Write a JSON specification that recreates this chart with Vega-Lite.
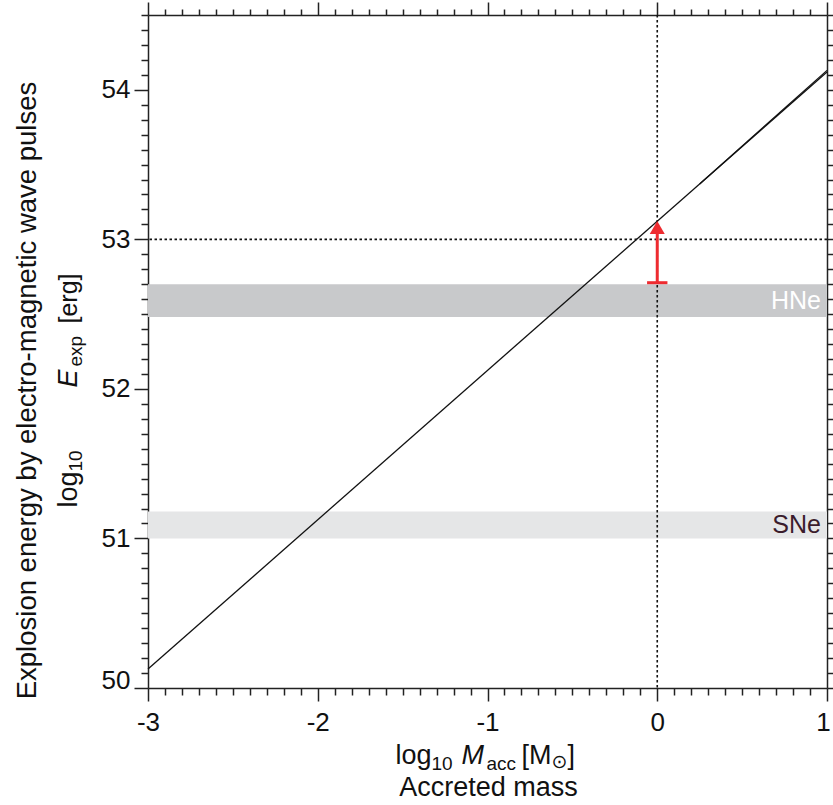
{
  "$schema": "https://vega.github.io/schema/vega-lite/v6.json",
  "width": 679,
  "height": 673,
  "autosize": "none",
  "padding": {"left": 148, "top": 15, "right": 6, "bottom": 117},
  "background": "white",
  "config": {
    "view": {"stroke": null},
    "axis": {
      "grid": false,
      "domainColor": "#222222",
      "domainWidth": 1.5,
      "tickColor": "#222222",
      "tickWidth": 1.5,
      "labelFont": "Liberation Sans",
      "labelFontSize": 26,
      "labelColor": "#111111",
      "titleFont": "Liberation Sans",
      "titleFontSize": 27,
      "titleFontWeight": "normal",
      "titleColor": "#111111",
      "labelOverlap": false,
      "labelBound": false,
      "labelFlush": false
    }
  },
  "datasets": {
    "bands": [
      {"band": "HNe", "lo": 52.48, "hi": 52.70, "mid": 52.59},
      {"band": "SNe", "lo": 51.0, "hi": 51.18, "mid": 51.09}
    ],
    "vref": [{"m": 0}],
    "href": [{"e": 53}],
    "lineA": [{"m": -3, "e": 50.127}, {"m": 1, "e": 54.119}],
    "lineB": [{"m": 0.25, "e": 53.37}, {"m": 1, "e": 54.13}],
    "shaft": [{"m": 0, "lo": 52.71, "hi": 53.04}],
    "cap": [{"lo": -0.06, "hi": 0.06, "e": 52.71}],
    "head": [{"m": 0, "e": 53.079}]
  },
  "layer": [
    {
      "data": {"name": "bands"},
      "mark": {"type": "rect"},
      "encoding": {
        "x": {"datum": -3, "type": "quantitative", "scale": {"domain": [-3, 1], "nice": false, "zero": false},
          "axis": {"orient": "bottom", "domain": false, "ticks": false, "labels": false, "title": "log", "titleX": 247, "titleY": 75, "titleAlign": "left", "titleBaseline": "alphabetic"}},
        "x2": {"datum": 1},
        "y": {"field": "lo", "type": "quantitative", "scale": {"domain": [50, 54.5], "nice": false, "zero": false},
          "axis": {"orient": "left", "domain": false, "ticks": false, "labels": false, "title": "log", "titleAngle": 270, "titleX": -72, "titleY": 492, "titleAlign": "left", "titleBaseline": "alphabetic"}},
        "y2": {"field": "hi"},
        "fill": {"field": "band", "type": "nominal", "scale": {"domain": ["HNe", "SNe"], "range": ["#c8c9cb", "#e5e6e7"]}, "legend": null}
      }
    },
    {
      "data": {"name": "bands"},
      "mark": {"type": "text", "align": "right", "baseline": "middle", "dx": -6, "font": "Liberation Sans", "fontSize": 25},
      "encoding": {
        "x": {"datum": 1, "type": "quantitative", "scale": {"domain": [-3, 1], "nice": false, "zero": false},
          "axis": {"orient": "bottom", "domain": false, "ticks": false, "labels": false, "title": "10", "titleFontSize": 19, "titleX": 283, "titleY": 81, "titleAlign": "left", "titleBaseline": "alphabetic"}},
        "y": {"field": "mid", "type": "quantitative", "scale": {"domain": [50, 54.5], "nice": false, "zero": false},
          "axis": {"orient": "left", "domain": false, "ticks": false, "labels": false, "title": "10", "titleFontSize": 19, "titleAngle": 270, "titleX": -67, "titleY": 456, "titleAlign": "left", "titleBaseline": "alphabetic"}},
        "text": {"field": "band", "type": "nominal"},
        "color": {"field": "band", "type": "nominal", "scale": {"domain": ["HNe", "SNe"], "range": ["#ffffff", "#3a1c2c"]}, "legend": null}
      }
    },
    {
      "data": {"name": "vref"},
      "mark": {"type": "rule", "color": "#111111", "strokeWidth": 1.6, "strokeDash": [2.5, 2.5]},
      "encoding": {
        "x": {"field": "m", "type": "quantitative", "scale": {"domain": [-3, 1], "nice": false, "zero": false},
          "axis": {"orient": "bottom", "domain": false, "ticks": false, "labels": false, "title": "M", "titleFontStyle": "italic", "titleX": 313, "titleY": 75, "titleAlign": "left", "titleBaseline": "alphabetic"}}
      }
    },
    {
      "data": {"name": "href"},
      "mark": {"type": "rule", "color": "#111111", "strokeWidth": 1.6, "strokeDash": [2.5, 2.5]},
      "encoding": {
        "y": {"field": "e", "type": "quantitative", "scale": {"domain": [50, 54.5], "nice": false, "zero": false},
          "axis": {"orient": "left", "domain": false, "ticks": false, "labels": false, "title": "E", "titleFontStyle": "italic", "titleAngle": 270, "titleX": -72, "titleY": 372, "titleAlign": "left", "titleBaseline": "alphabetic"}}
      }
    },
    {
      "data": {"name": "lineA"},
      "mark": {"type": "line", "color": "#111111", "strokeWidth": 1.3},
      "encoding": {
        "x": {"field": "m", "type": "quantitative", "scale": {"domain": [-3, 1], "nice": false, "zero": false},
          "axis": {
            "orient": "bottom",
            "values": [-3, -2.9, -2.8, -2.7, -2.6, -2.5, -2.4, -2.3, -2.2, -2.1, -2, -1.9, -1.8, -1.7, -1.6, -1.5, -1.4, -1.3, -1.2, -1.1, -1, -0.9, -0.8, -0.7, -0.6, -0.5, -0.4, -0.3, -0.2, -0.1, 0, 0.1, 0.2, 0.3, 0.4, 0.5, 0.6, 0.7, 0.8, 0.9, 1],
            "labelExpr": "abs(datum.value-round(datum.value))<0.001 ? datum.value+'' : ''",
            "tickSize": {"condition": {"test": "abs(datum.value-round(datum.value))<0.001", "value": 13}, "value": 7},
            "labelOffset": {"condition": {"test": "datum.value > 0.95", "value": -4}, "value": 0},
            "labelPadding": 8,
            "title": "Accreted mass",
            "titleX": 340,
            "titleY": 107,
            "titleAlign": "center",
            "titleBaseline": "alphabetic"
          }},
        "y": {"field": "e", "type": "quantitative", "scale": {"domain": [50, 54.5], "nice": false, "zero": false},
          "axis": {
            "orient": "left",
            "values": [50, 50.1, 50.2, 50.3, 50.4, 50.5, 50.6, 50.7, 50.8, 50.9, 51, 51.1, 51.2, 51.3, 51.4, 51.5, 51.6, 51.7, 51.8, 51.9, 52, 52.1, 52.2, 52.3, 52.4, 52.5, 52.6, 52.7, 52.8, 52.9, 53, 53.1, 53.2, 53.3, 53.4, 53.5, 53.6, 53.7, 53.8, 53.9, 54, 54.1, 54.2, 54.3, 54.4, 54.5],
            "labelExpr": "abs(datum.value-round(datum.value))<0.001 ? datum.value+'' : ''",
            "tickSize": {"condition": {"test": "abs(datum.value-round(datum.value))<0.001", "value": 14}, "value": 7},
            "labelBaseline": {"condition": {"test": "datum.value < 50.05", "value": "alphabetic"}, "value": "middle"},
            "labelPadding": 4,
            "title": "Explosion energy by electro-magnetic wave pulses",
            "titleFontSize": 27.5,
            "titleAngle": 270,
            "titleX": -113,
            "titleY": 375,
            "titleAlign": "center",
            "titleBaseline": "alphabetic"
          }}
      }
    },
    {
      "data": {"name": "shaft"},
      "mark": {"type": "rule", "color": "#ee2b30", "strokeWidth": 3},
      "encoding": {
        "x": {"field": "m", "type": "quantitative", "scale": {"domain": [-3, 1], "nice": false, "zero": false},
          "axis": {"orient": "bottom", "domain": false, "ticks": false, "labels": false, "title": "acc", "titleFontSize": 19, "titleX": 338, "titleY": 81, "titleAlign": "left", "titleBaseline": "alphabetic"}},
        "y": {"field": "lo", "type": "quantitative", "scale": {"domain": [50, 54.5], "nice": false, "zero": false},
          "axis": {"orient": "left", "domain": false, "ticks": false, "labels": false, "title": "exp", "titleFontSize": 19, "titleAngle": 270, "titleX": -67, "titleY": 351, "titleAlign": "left", "titleBaseline": "alphabetic"}},
        "y2": {"field": "hi"}
      }
    },
    {
      "data": {"name": "cap"},
      "mark": {"type": "rule", "color": "#ee2b30", "strokeWidth": 3},
      "encoding": {
        "x": {"field": "lo", "type": "quantitative", "scale": {"domain": [-3, 1], "nice": false, "zero": false},
          "axis": {"orient": "bottom", "domain": false, "ticks": false, "labels": false, "title": "[M", "titleX": 373, "titleY": 75, "titleAlign": "left", "titleBaseline": "alphabetic"}},
        "x2": {"field": "hi"},
        "y": {"field": "e", "type": "quantitative", "scale": {"domain": [50, 54.5], "nice": false, "zero": false},
          "axis": {"orient": "left", "domain": false, "ticks": false, "labels": false, "title": "[erg]", "titleFontSize": 25, "titleAngle": 270, "titleX": -72, "titleY": 308, "titleAlign": "left", "titleBaseline": "alphabetic"}}
      }
    },
    {
      "data": {"name": "head"},
      "mark": {"type": "point", "shape": "triangle-up", "size": 225, "filled": true, "color": "#ee2b30", "opacity": 1, "strokeWidth": 0},
      "encoding": {
        "x": {"field": "m", "type": "quantitative", "scale": {"domain": [-3, 1], "nice": false, "zero": false},
          "axis": {"orient": "bottom", "domain": false, "ticks": false, "labels": false, "title": "⊙", "titleFont": "DejaVu Sans", "titleFontSize": 19, "titleX": 403, "titleY": 79, "titleAlign": "left", "titleBaseline": "alphabetic"}},
        "y": {"field": "e", "type": "quantitative", "scale": {"domain": [50, 54.5], "nice": false, "zero": false}, "axis": null}
      }
    },
    {
      "data": {"name": "lineB"},
      "mark": {"type": "line", "color": "#111111", "strokeWidth": 1.2},
      "encoding": {
        "x": {"field": "m", "type": "quantitative", "scale": {"domain": [-3, 1], "nice": false, "zero": false},
          "axis": {
            "orient": "top",
            "values": [-3, -2.9, -2.8, -2.7, -2.6, -2.5, -2.4, -2.3, -2.2, -2.1, -2, -1.9, -1.8, -1.7, -1.6, -1.5, -1.4, -1.3, -1.2, -1.1, -1, -0.9, -0.8, -0.7, -0.6, -0.5, -0.4, -0.3, -0.2, -0.1, 0, 0.1, 0.2, 0.3, 0.4, 0.5, 0.6, 0.7, 0.8, 0.9, 1],
            "labels": false,
            "tickSize": {"condition": {"test": "abs(datum.value-round(datum.value))<0.001", "value": 13}, "value": 6},
            "title": "]",
            "titleX": 419,
            "titleY": 748,
            "titleAlign": "left",
            "titleBaseline": "alphabetic"
          }},
        "y": {"field": "e", "type": "quantitative", "scale": {"domain": [50, 54.5], "nice": false, "zero": false},
          "axis": {
            "orient": "right",
            "values": [50, 50.1, 50.2, 50.3, 50.4, 50.5, 50.6, 50.7, 50.8, 50.9, 51, 51.1, 51.2, 51.3, 51.4, 51.5, 51.6, 51.7, 51.8, 51.9, 52, 52.1, 52.2, 52.3, 52.4, 52.5, 52.6, 52.7, 52.8, 52.9, 53, 53.1, 53.2, 53.3, 53.4, 53.5, 53.6, 53.7, 53.8, 53.9, 54, 54.1, 54.2, 54.3, 54.4, 54.5],
            "labels": false,
            "tickSize": {"condition": {"test": "abs(datum.value-round(datum.value))<0.001", "value": 14}, "value": 7},
            "title": null
          }}
      }
    }
  ],
  "resolve": {"axis": {"x": "independent", "y": "independent"}}
}
